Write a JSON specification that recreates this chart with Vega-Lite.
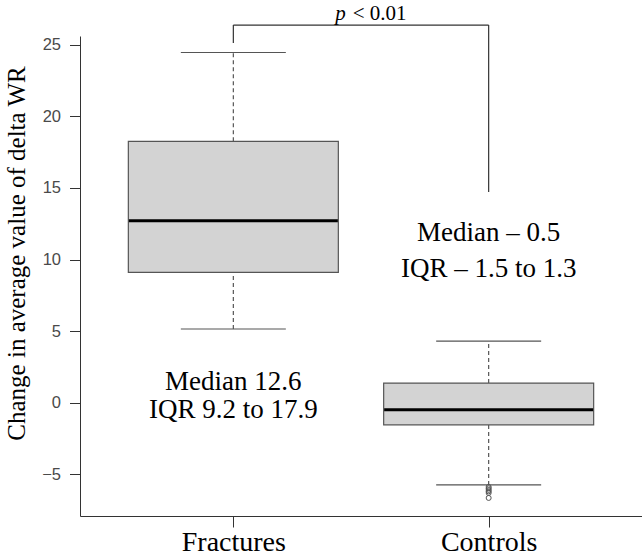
{
  "$schema": "https://vega.github.io/schema/vega-lite/v6.json",
  "width": 562,
  "height": 480,
  "autosize": "none",
  "padding": {"left": 80, "top": 36, "right": 0, "bottom": 41},
  "background": "white",
  "config": {
    "view": {"stroke": null},
    "axisX": {
      "grid": false,
      "tickSize": 11,
      "tickColor": "#333333",
      "domainColor": "#333333",
      "labelFont": "Liberation Serif",
      "labelFontSize": 28,
      "labelColor": "#000000",
      "labelPadding": 1
    },
    "axisY": {
      "grid": false,
      "tickSize": 10.5,
      "tickColor": "#333333",
      "domainColor": "#333333",
      "labelFont": "Liberation Sans",
      "labelFontSize": 16.5,
      "labelColor": "#4a4a4a",
      "labelPadding": 9
    }
  },
  "datasets": {
    "boxes": [
      {"group": "Fractures", "pos": 1, "lower": 5.15, "q1": 9.1, "median": 12.7, "q3": 18.25, "upper": 24.45},
      {"group": "Controls", "pos": 2, "lower": -5.73, "q1": -1.54, "median": -0.49, "q3": 1.38, "upper": 4.31}
    ],
    "outliers": [
      {"pos": 2, "value": -5.87},
      {"pos": 2, "value": -5.97},
      {"pos": 2, "value": -6.08},
      {"pos": 2, "value": -6.18},
      {"pos": 2, "value": -6.29},
      {"pos": 2, "value": -6.64}
    ],
    "bracket": [
      {"x": 1, "x2": 2, "y": 26.36, "y2": 26.36},
      {"x": 1, "x2": 1, "y": 26.36, "y2": 25.12},
      {"x": 2, "x2": 2, "y": 26.36, "y2": 14.72}
    ],
    "notes": [
      {"x": 1, "y": 1.44, "label": "Median 12.6"},
      {"x": 1, "y": -0.51, "label": "IQR 9.2 to 17.9"},
      {"x": 2, "y": 11.82, "label": "Median – 0.5"},
      {"x": 2, "y": 9.33, "label": "IQR – 1.5 to 1.3"}
    ],
    "pvalue": [
      {"x": 1.573, "y": 27.15, "label": "< 0.01"}
    ],
    "pnote": [
      {"x": 1.42, "y": 27.15, "label": "p"}
    ]
  },
  "layer": [
    {
      "data": {"name": "boxes"},
      "mark": {"type": "rule", "color": "#555555", "strokeWidth": 1.2, "strokeDash": [4, 3]},
      "encoding": {
        "x": {"field": "pos", "type": "quantitative", "title": null,
          "scale": {"domain": [0.419, 2.581], "nice": false, "zero": false},
          "axis": {"values": [1, 2], "labelExpr": "datum.value == 1 ? 'Fractures' : 'Controls'", "title": null}},
        "y": {"field": "q3", "type": "quantitative",
          "scale": {"domain": [-7.9, 25.6], "nice": false, "zero": false},
          "axis": {"values": [-5, 0, 5, 10, 15, 20, 25], "title": "Change in  average value of delta WR", "titleFont": "Liberation Serif", "titleFontSize": 25, "titleFontWeight": "normal", "titleColor": "#000000", "titleAngle": -90, "titleX": -64, "titleY": 217, "titleAlign": "center", "titleBaseline": "middle"}},
        "y2": {"field": "upper"}
      }
    },
    {
      "data": {"name": "boxes"},
      "mark": {"type": "rule", "color": "#555555", "strokeWidth": 1.2, "strokeDash": [4, 3]},
      "encoding": {
        "x": {"field": "pos", "type": "quantitative", "title": null,
          "axis": {"values": [1, 2], "labelExpr": "datum.value == 1 ? 'Fractures' : 'Controls'", "title": null}},
        "y": {"field": "lower", "type": "quantitative",
          "axis": {"values": [-5, 0, 5, 10, 15, 20, 25], "title": "Change in  average value of delta WR", "titleFont": "Liberation Serif", "titleFontSize": 25, "titleFontWeight": "normal", "titleColor": "#000000", "titleAngle": -90, "titleX": -64, "titleY": 217, "titleAlign": "center", "titleBaseline": "middle"}},
        "y2": {"field": "q1"}
      }
    },
    {
      "data": {"name": "boxes"},
      "mark": {"type": "tick", "orient": "horizontal", "size": 105, "thickness": 1.2, "color": "#555555", "opacity": 1},
      "encoding": {
        "x": {"field": "pos", "type": "quantitative", "title": null,
          "axis": {"values": [1, 2], "labelExpr": "datum.value == 1 ? 'Fractures' : 'Controls'", "title": null}},
        "y": {"field": "upper", "type": "quantitative",
          "axis": {"values": [-5, 0, 5, 10, 15, 20, 25], "title": "Change in  average value of delta WR", "titleFont": "Liberation Serif", "titleFontSize": 25, "titleFontWeight": "normal", "titleColor": "#000000", "titleAngle": -90, "titleX": -64, "titleY": 217, "titleAlign": "center", "titleBaseline": "middle"}}
      }
    },
    {
      "data": {"name": "boxes"},
      "mark": {"type": "tick", "orient": "horizontal", "size": 105, "thickness": 1.2, "color": "#555555", "opacity": 1},
      "encoding": {
        "x": {"field": "pos", "type": "quantitative", "title": null,
          "axis": {"values": [1, 2], "labelExpr": "datum.value == 1 ? 'Fractures' : 'Controls'", "title": null}},
        "y": {"field": "lower", "type": "quantitative",
          "axis": {"values": [-5, 0, 5, 10, 15, 20, 25], "title": "Change in  average value of delta WR", "titleFont": "Liberation Serif", "titleFontSize": 25, "titleFontWeight": "normal", "titleColor": "#000000", "titleAngle": -90, "titleX": -64, "titleY": 217, "titleAlign": "center", "titleBaseline": "middle"}}
      }
    },
    {
      "data": {"name": "boxes"},
      "mark": {"type": "bar", "width": 210, "fill": "#d3d3d3", "stroke": "#555555", "strokeWidth": 1.2},
      "encoding": {
        "x": {"field": "pos", "type": "quantitative", "title": null,
          "axis": {"values": [1, 2], "labelExpr": "datum.value == 1 ? 'Fractures' : 'Controls'", "title": null}},
        "y": {"field": "q1", "type": "quantitative",
          "axis": {"values": [-5, 0, 5, 10, 15, 20, 25], "title": "Change in  average value of delta WR", "titleFont": "Liberation Serif", "titleFontSize": 25, "titleFontWeight": "normal", "titleColor": "#000000", "titleAngle": -90, "titleX": -64, "titleY": 217, "titleAlign": "center", "titleBaseline": "middle"}},
        "y2": {"field": "q3"}
      }
    },
    {
      "data": {"name": "boxes"},
      "mark": {"type": "tick", "orient": "horizontal", "size": 209, "thickness": 3, "color": "#000000", "opacity": 1},
      "encoding": {
        "x": {"field": "pos", "type": "quantitative", "title": null,
          "axis": {"values": [1, 2], "labelExpr": "datum.value == 1 ? 'Fractures' : 'Controls'", "title": null}},
        "y": {"field": "median", "type": "quantitative",
          "axis": {"values": [-5, 0, 5, 10, 15, 20, 25], "title": "Change in  average value of delta WR", "titleFont": "Liberation Serif", "titleFontSize": 25, "titleFontWeight": "normal", "titleColor": "#000000", "titleAngle": -90, "titleX": -64, "titleY": 217, "titleAlign": "center", "titleBaseline": "middle"}}
      }
    },
    {
      "data": {"name": "outliers"},
      "mark": {"type": "point", "shape": "circle", "filled": false, "size": 25, "stroke": "#555555", "strokeWidth": 1, "opacity": 1},
      "encoding": {
        "x": {"field": "pos", "type": "quantitative", "title": null,
          "axis": {"values": [1, 2], "labelExpr": "datum.value == 1 ? 'Fractures' : 'Controls'", "title": null}},
        "y": {"field": "value", "type": "quantitative",
          "axis": {"values": [-5, 0, 5, 10, 15, 20, 25], "title": "Change in  average value of delta WR", "titleFont": "Liberation Serif", "titleFontSize": 25, "titleFontWeight": "normal", "titleColor": "#000000", "titleAngle": -90, "titleX": -64, "titleY": 217, "titleAlign": "center", "titleBaseline": "middle"}}
      }
    },
    {
      "data": {"name": "bracket"},
      "mark": {"type": "rule", "color": "#333333", "strokeWidth": 1.2, "clip": false},
      "encoding": {
        "x": {"field": "x", "type": "quantitative", "title": null,
          "axis": {"values": [1, 2], "labelExpr": "datum.value == 1 ? 'Fractures' : 'Controls'", "title": null}},
        "x2": {"field": "x2"},
        "y": {"field": "y", "type": "quantitative",
          "axis": {"values": [-5, 0, 5, 10, 15, 20, 25], "title": "Change in  average value of delta WR", "titleFont": "Liberation Serif", "titleFontSize": 25, "titleFontWeight": "normal", "titleColor": "#000000", "titleAngle": -90, "titleX": -64, "titleY": 217, "titleAlign": "center", "titleBaseline": "middle"}},
        "y2": {"field": "y2"}
      }
    },
    {
      "data": {"name": "notes"},
      "mark": {"type": "text", "font": "Liberation Serif", "fontSize": 27, "color": "#000000", "align": "center", "baseline": "middle", "clip": false},
      "encoding": {
        "x": {"field": "x", "type": "quantitative", "title": null,
          "axis": {"values": [1, 2], "labelExpr": "datum.value == 1 ? 'Fractures' : 'Controls'", "title": null}},
        "y": {"field": "y", "type": "quantitative",
          "axis": {"values": [-5, 0, 5, 10, 15, 20, 25], "title": "Change in  average value of delta WR", "titleFont": "Liberation Serif", "titleFontSize": 25, "titleFontWeight": "normal", "titleColor": "#000000", "titleAngle": -90, "titleX": -64, "titleY": 217, "titleAlign": "center", "titleBaseline": "middle"}},
        "text": {"field": "label"}
      }
    },
    {
      "data": {"name": "pvalue"},
      "mark": {"type": "text", "font": "Liberation Serif", "fontSize": 21, "color": "#000000", "align": "center", "baseline": "middle", "clip": false},
      "encoding": {
        "x": {"field": "x", "type": "quantitative", "title": null,
          "axis": {"values": [1, 2], "labelExpr": "datum.value == 1 ? 'Fractures' : 'Controls'", "title": null}},
        "y": {"field": "y", "type": "quantitative",
          "axis": {"values": [-5, 0, 5, 10, 15, 20, 25], "title": "Change in  average value of delta WR", "titleFont": "Liberation Serif", "titleFontSize": 25, "titleFontWeight": "normal", "titleColor": "#000000", "titleAngle": -90, "titleX": -64, "titleY": 217, "titleAlign": "center", "titleBaseline": "middle"}},
        "text": {"field": "label"}
      }
    },
    {
      "data": {"name": "pnote"},
      "mark": {"type": "text", "font": "Liberation Serif", "fontSize": 21, "fontStyle": "italic", "color": "#000000", "align": "center", "baseline": "middle", "clip": false},
      "encoding": {
        "x": {"field": "x", "type": "quantitative", "title": null,
          "axis": {"values": [1, 2], "labelExpr": "datum.value == 1 ? 'Fractures' : 'Controls'", "title": null}},
        "y": {"field": "y", "type": "quantitative",
          "axis": {"values": [-5, 0, 5, 10, 15, 20, 25], "title": "Change in  average value of delta WR", "titleFont": "Liberation Serif", "titleFontSize": 25, "titleFontWeight": "normal", "titleColor": "#000000", "titleAngle": -90, "titleX": -64, "titleY": 217, "titleAlign": "center", "titleBaseline": "middle"}},
        "text": {"field": "label"}
      }
    }
  ]
}
